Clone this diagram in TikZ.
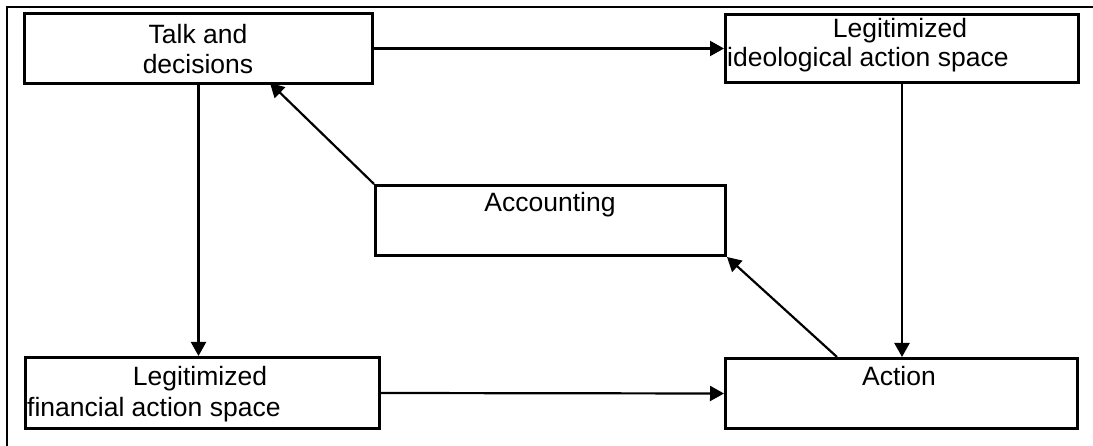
\documentclass[tikz,border=0pt]{standalone}
\usepackage{fontspec}
\setmainfont{Liberation Sans}
\usetikzlibrary{arrows.meta,calc}
\begin{document}
\begin{tikzpicture}[x=1pt,y=-1pt,
  box/.style={draw, line width=3pt, inner sep=0pt, anchor=north west},
  lbl/.style={anchor=base, inner sep=0pt, font=\fontsize{26.5}{30}\selectfont},
  lbll/.style={anchor=base west, inner sep=0pt, font=\fontsize{26.5}{30}\selectfont},
  arr/.style={line width=2.2pt, -{Triangle[length=14pt,width=15pt]}},
  frame/.style={line width=1.6pt}]
\useasboundingbox (0,0) rectangle (1093,446);
% frame
\coordinate (fa) at (7,446);
\coordinate (fb) at (7,7);
\coordinate (fc) at (1093,7);
\draw[frame] (fa) -- (fb) -- (fc);
% boxes
\node[box, minimum width=348pt, minimum height=70pt] (talk) at (23,12) {};
\node[box, minimum width=353pt, minimum height=68pt] (ideo) at (724,13) {};
\node[box, minimum width=354pt, minimum height=71pt] (fin) at (24,356) {};
\node[box, minimum width=352pt, minimum height=70pt] (act) at (724,357) {};
\node[box, minimum width=350pt, minimum height=70pt] (acc) at (374,184) {};
% texts
\node[lbl] (talk1) at (198,44) {Talk and};
\node[lbl] (talk2) at (198,74) {decisions};
\node[lbl] (ideo1) at (900,38) {Legitimized};
\node[lbll] (ideo2) at (727,67) {ideological action space};
\node[lbl] (fin1) at (200,385) {Legitimized};
\node[lbll] (fin2) at (27,417) {financial action space};
\node[lbl] (act1) at (899,385) {Action};
\node[lbl] (acc1) at (550,212) {Accounting};
% connectors
\coordinate (talkin) at (270,83);
\coordinate (actout) at (837,357);
\draw[arr] (talk.east) -- (ideo.west);
\draw[arr] (talk.south) -- (talk.south |- fin.north);
\draw[arr] (ideo.south) -- (ideo.south |- act.north);
\draw[arr] (fin.east) -- (act.west);
\draw[arr] (acc.north west) -- (talkin);
\draw[arr] (actout) -- (acc.south east);
\end{tikzpicture}
\end{document}
